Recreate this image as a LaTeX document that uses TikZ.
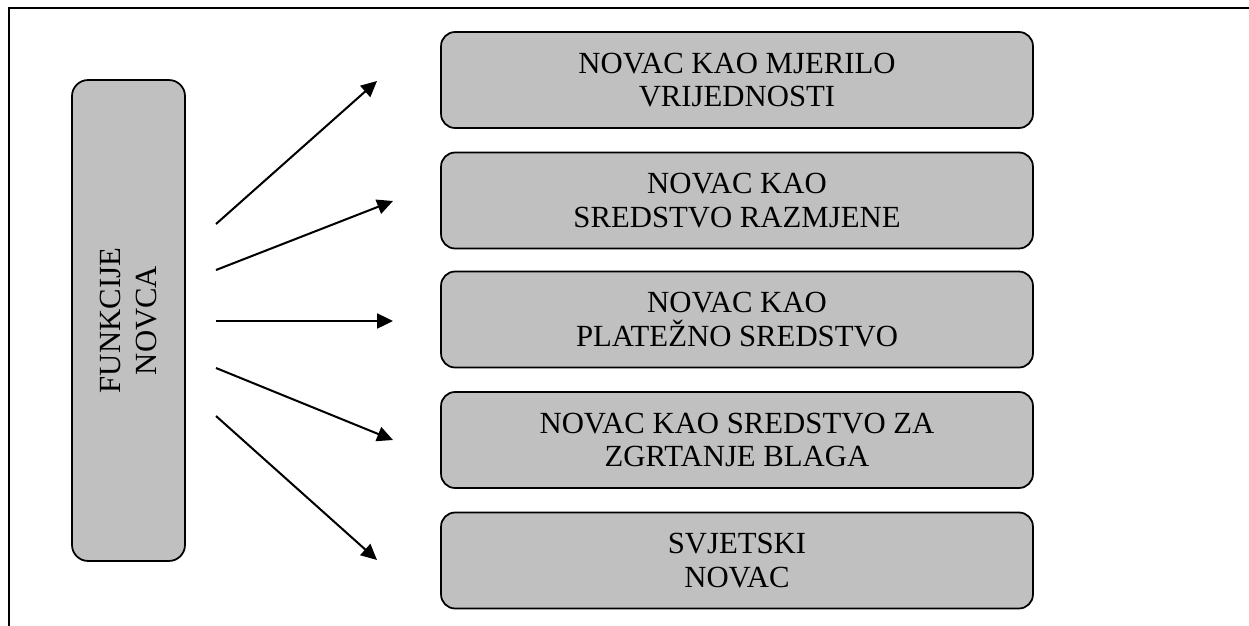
\documentclass[tikz,border=0pt]{standalone}
\usepackage{fontspec}
\setmainfont{Liberation Serif}
\usetikzlibrary{arrows.meta}

\begin{document}
\begin{tikzpicture}[x=0.02cm, y=-0.02cm,
    kutija/.style={draw, line width=1pt, fill={rgb,255:red,192;green,192;blue,192}, rounded corners=0.28cm,
        minimum width=11.84cm, minimum height=1.92cm, inner sep=0pt, align=center,
        font=\fontsize{17.5}{19}\selectfont},
    strelica/.style={line width=1.15pt, -{Triangle[length=9pt, width=8.5pt]}}]
    \useasboundingbox (0,0) rectangle (1249,626);
    % Frame
    \draw[line width=1.1pt] (9,626) -- (9,8) -- (1249,8);
    % Left box
    \node[kutija, rounded corners=0.32cm, minimum width=9.62cm, minimum height=2.26cm, rotate=90,
        font=\fontsize{17.5}{20.5}\selectfont] (funkcije) at (128.5,320.5) {FUNKCIJE\\NOVCA};
    % Right boxes
    \node[kutija] (mjerilo) at (737,80) {NOVAC KAO MJERILO\\VRIJEDNOSTI};
    \node[kutija] (razmjena) at (737,200.5) {NOVAC KAO\\SREDSTVO RAZMJENE};
    \node[kutija] (placanje) at (737,319.5) {NOVAC KAO\\PLATEŽNO SREDSTVO};
    \node[kutija] (blago) at (737,440) {NOVAC KAO SREDSTVO ZA\\ZGRTANJE BLAGA};
    \node[kutija] (svjetski) at (737,560.5) {SVJETSKI\\NOVAC};
    % Arrows
    \foreach \i/\xa/\ya/\xb/\yb in {1/216/224/377/81, 2/216/270/393/201, 3/216/321/393/321,
        4/216/368/393/440, 5/216/416/377/560} {
        \coordinate (od\i) at (\xa,\ya);
        \coordinate (do\i) at (\xb,\yb);
        \draw[strelica] (od\i) -- (do\i);
    }
\end{tikzpicture}
\end{document}
